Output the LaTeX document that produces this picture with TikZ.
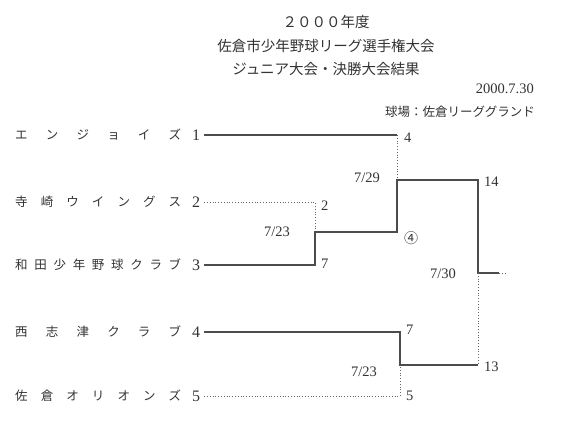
\documentclass[tikz,border=0pt]{standalone}
\usepackage{fontspec}
\setmainfont{Liberation Serif}
\newfontfamily\jp{Noto Sans CJK JP}
\usepackage{tikz}
\usetikzlibrary{positioning}

\begin{document}
\begin{tikzpicture}[x=1pt, y=-1pt,
    title/.style={font=\jp\fontsize{14.5}{16}\selectfont, text=black!80},
    team/.style={anchor=west, font=\jp\fontsize{12.5}{14}\selectfont, text=black!80, inner sep=0pt},
    seed/.style={font=\fontsize{16}{18}\selectfont, text=black!80, inner sep=4pt},
    score/.style={anchor=west, font=\fontsize{14.5}{16}\selectfont, text=black!80, inner sep=0pt},
    date/.style={font=\fontsize{14.5}{16}\selectfont, text=black!80, inner sep=0pt},
    win/.style={line width=1.1pt, draw=black!70},
    lose/.style={line width=0.8pt, draw=black!60, dotted}
]
\useasboundingbox (0,0) rectangle (563,442);

%% Title
\node[title] (head1) at (326,22) {２０００年度};
\node[title] (head2) at (326,46) {佐倉市少年野球リーグ選手権大会};
\node[title] (head3) at (326,69) {ジュニア大会・決勝大会結果};
\node[date, anchor=east] (day) at (534,89) {2000.7.30};
\node[team, anchor=east] (field) at (535,112) {球場：佐倉リーググランド};

%% Teams
\node[team] (team1) at (15,135) {\makebox[166pt][s]{エ\hfill ン\hfill ジ\hfill ョ\hfill イ\hfill ズ}};
\node[team] (team2) at (15,202) {\makebox[166pt][s]{寺\hfill 崎\hfill ウ\hfill イ\hfill ン\hfill グ\hfill ス}};
\node[team] (team3) at (15,265) {\makebox[166pt][s]{和\hfill 田\hfill 少\hfill 年\hfill 野\hfill 球\hfill ク\hfill ラ\hfill ブ}};
\node[team] (team4) at (15,332) {\makebox[166pt][s]{西\hfill 志\hfill 津\hfill ク\hfill ラ\hfill ブ}};
\node[team] (team5) at (15,396) {\makebox[166pt][s]{佐\hfill 倉\hfill オ\hfill リ\hfill オ\hfill ン\hfill ズ}};

\node[seed] (n1) at (196,135) {1};
\node[seed] (n2) at (196,202) {2};
\node[seed] (n3) at (196,265) {3};
\node[seed] (n4) at (196,332) {4};
\node[seed] (n5) at (196,396) {5};

%% Bracket corners
\coordinate (m1) at (397,135);
\coordinate (m2) at (315,202);
\coordinate (m3) at (315,265);
\coordinate (m23) at (315,232);
\coordinate (w23) at (397,232);
\coordinate (s1) at (397,180);
\coordinate (f1) at (478,180);
\coordinate (m4) at (400,332);
\coordinate (m5) at (400,396);
\coordinate (m45) at (400,365);
\coordinate (f2) at (478,365);
\coordinate (fm) at (478,273);
\coordinate (fend) at (499,273);
\coordinate (fdot) at (506,273);

%% Lines
\draw[win] (n1.east) -- (m1);
\draw[lose] (m1) -- (s1);
\draw[lose] (n2.east) -- (m2) -- (m23);
\draw[win] (n3.east) -- (m3) -- (m23) -- (w23) -- (s1) -- (f1) -- (fm) -- (fend);
\draw[lose] (fend) -- (fdot);
\draw[lose] (fm) -- (f2);
\draw[win] (n4.east) -- (m4) -- (m45) -- (f2);
\draw[lose] (n5.east) -- (m5) -- (m45);

%% Scores
\node[score] (r1) at (404,138) {4};
\node[score] (r2) at (321,206) {2};
\node[score] (r3) at (321,264) {7};
\node[score] (r23) at (404,238) {\jp\fontsize{14}{16}\selectfont ④};
\node[score] (r4) at (406,330) {7};
\node[score] (r5) at (406,396) {5};
\node[score] (rs1) at (484,182) {14};
\node[score] (rs2) at (484,367) {13};

%% Dates
\node[date] (d1) at (277,232) {7/23};
\node[date] (d2) at (367,178) {7/29};
\node[date] (d3) at (443,274) {7/30};
\node[date] (d4) at (364,372) {7/23};

\end{tikzpicture}
\end{document}
